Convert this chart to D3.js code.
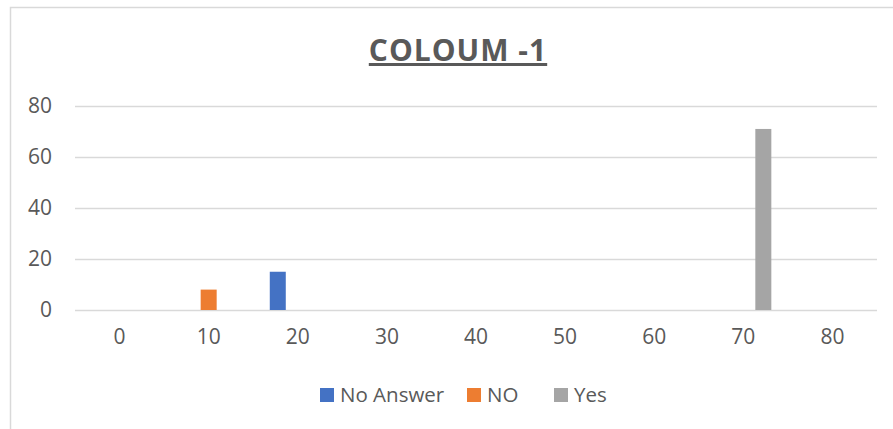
<!DOCTYPE html>
<html>
<head>
<meta charset="utf-8">
<script src="https://cdn.jsdelivr.net/npm/d3@7"></script>
<style>
  body { margin: 0; background: #fff; }
  text { font-family: "Open Sans", sans-serif; fill: #595959; }
</style>
</head>
<body>
<div id="chart"></div>
<script>
// categories along the bottom and the three series
var categories = ["0", "10", "20", "30", "40", "50", "60", "70", "80"];
var seriesNames = ["No Answer", "NO", "Yes"];
var noAnswer = [0, 0, 15, 0, 0, 0, 0, 0, 0];
var no       = [0, 8, 0, 0, 0, 0, 0, 0, 0];
var yes      = [0, 0, 0, 0, 0, 0, 0, 71, 0];
var yTicks = [0, 20, 40, 60, 80];
var colors = ["#4472C4", "#ED7D31", "#A5A5A5"];

var W = 893, H = 429;
var margin = {top: 106, right: 16, bottom: 119, left: 75},
    width = W - margin.left - margin.right,
    height = H - margin.top - margin.bottom;

var svg = d3.select("#chart").append("svg")
    .attr("width", W)
    .attr("height", H);

// chart frame (runs off the right and bottom edges)
svg.append("rect")
    .attr("x", 10.5).attr("y", 7.5)
    .attr("width", 900).attr("height", 440)
    .attr("fill", "none")
    .attr("stroke", "#d9d9d9")
    .attr("stroke-width", 1.5);

// title
svg.append("text")
    .attr("x", 458)
    .attr("y", 61)
    .attr("text-anchor", "middle")
    .style("font-size", "30px")
    .style("font-weight", "bold")
    .style("letter-spacing", "1px")
    .style("text-decoration", "underline")
    .text("COLOUM -1");

var g = svg.append("g")
    .attr("transform", "translate(" + margin.left + "," + margin.top + ")");

var x0 = d3.scaleBand().domain(categories).range([0, width]).padding(0);
var x1 = d3.scaleBand().domain(seriesNames).range([0, 56]).paddingInner(0.2);
var y = d3.scaleLinear().domain([0, 80]).range([height, 0]);

// y axis + gridlines
var yAxis = g.append("g")
    .call(d3.axisLeft(y).tickValues(yTicks).tickSize(-width).tickPadding(23));
yAxis.select(".domain").remove();
yAxis.selectAll("line").attr("stroke", "#d9d9d9").attr("stroke-width", 1.5);
yAxis.selectAll("text").style("font-size", "21px").style("fill", "#595959");

// x axis labels
var xAxis = g.append("g")
    .attr("transform", "translate(0," + height + ")")
    .call(d3.axisBottom(x0).tickSize(0).tickPadding(19));
xAxis.select(".domain").remove();
xAxis.selectAll("text").style("font-size", "21px").style("fill", "#595959");

// bars
var seriesValues = [noAnswer, no, yes];
seriesNames.forEach(function(name, si) {
  g.append("g")
    .selectAll("rect")
    .data(seriesValues[si])
    .enter().append("rect")
      .attr("x", function(d, i) { return x0(categories[i]) + x0.bandwidth() / 2 - 28 + x1(name); })
      .attr("y", function(d) { return y(d); })
      .attr("width", x1.bandwidth())
      .attr("height", function(d) { return height - y(d); })
      .attr("fill", colors[si]);
});

// legend
var legendX = [320, 467, 554];
var legend = svg.append("g");
seriesNames.forEach(function(name, i) {
  legend.append("rect")
      .attr("x", legendX[i]).attr("y", 388)
      .attr("width", 14).attr("height", 14)
      .attr("fill", colors[i]);
  legend.append("text")
      .attr("x", legendX[i] + 20).attr("y", 402)
      .style("font-size", "20.5px")
      .text(name);
});
</script>
</body>
</html>
